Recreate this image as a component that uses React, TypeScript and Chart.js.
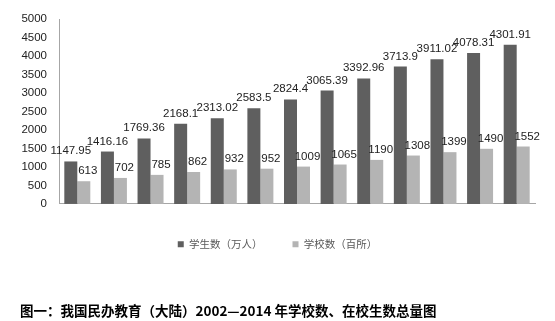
import React, { useEffect, useRef } from "react";
import { Chart, registerables } from "chart.js";

Chart.register(...registerables);

const years = ["2002", "2003", "2004", "2005", "2006", "2007", "2008", "2009", "2010", "2011", "2012", "2013", "2014"];
const students = [1147.95, 1416.16, 1769.36, 2168.1, 2313.02, 2583.5, 2824.4, 3065.39, 3392.96, 3713.9, 3911.02, 4078.31, 4301.91];
const schools = [613, 702, 785, 862, 932, 952, 1009, 1065, 1190, 1308, 1399, 1490, 1552];
const studentLabels = ["1147.95", "1416.16", "1769.36", "2168.1", "2313.02", "2583.5", "2824.4", "3065.39", "3392.96", "3713.9", "3911.02", "4078.31", "4301.91"];
const seriesNames = ["学生数（万人）", "学校数（百所）"];
const caption = "图一：我国民办教育（大陆）2002—2014 年学校数、在校生数总量图";

const NUM_FONT = "'Liberation Sans', Arial, sans-serif";
const CJK_FONT = "'Noto Sans CJK SC', 'Liberation Sans', sans-serif";

const valueLabels = {
  id: "valueLabels",
  afterDatasetsDraw(chart: any) {
    const ctx = chart.ctx;
    ctx.save();
    ctx.font = `11.5px ${NUM_FONT}`;
    ctx.fillStyle = "#222222";
    ctx.textAlign = "center";
    ctx.textBaseline = "alphabetic";
    chart.data.datasets.forEach((ds: any, di: number) => {
      const meta = chart.getDatasetMeta(di);
      meta.data.forEach((bar: any, i: number) => {
        const text = di === 0 ? studentLabels[i] : String(ds.data[i]);
        const dx = di === 0 ? 0 : 4;
        ctx.fillText(text, bar.x + dx, bar.y - 7);
      });
    });
    ctx.restore();
  },
};

export default function App() {
  const ref = useRef<HTMLCanvasElement | null>(null);
  useEffect(() => {
    if (!ref.current) return;
    const chart = new Chart(ref.current, {
      type: "bar",
      data: {
        labels: years,
        datasets: [
          { label: seriesNames[0], data: students, backgroundColor: "#5f5f5f", borderWidth: 0 },
          { label: seriesNames[1], data: schools, backgroundColor: "#b4b4b4", borderWidth: 0 },
        ],
      },
      options: {
        responsive: false,
        animation: false,
        devicePixelRatio: 1,
        layout: { padding: { left: 20, right: 20, top: 19, bottom: 0 } },
        datasets: { bar: { barPercentage: 1, categoryPercentage: 0.71 } },
        scales: {
          x: {
            grid: { display: false, drawTicks: false },
            border: { display: true, color: "#a6a6a6", width: 1 },
            ticks: { color: "#222222", font: { family: NUM_FONT, size: 11.5 }, padding: 10, maxRotation: 0 },
            afterFit(scale: any) { scale.height = 5; },
          },
          y: {
            min: 0,
            max: 5000,
            grid: { display: false, drawTicks: false },
            border: { display: true, color: "#a6a6a6", width: 1 },
            ticks: {
              stepSize: 500,
              color: "#222222",
              font: { family: NUM_FONT, size: 11.5 },
              padding: 12,
              callback: (v: any) => String(v),
            },
            afterFit(scale: any) { scale.width = 39; },
          },
        },
        plugins: {
          legend: {
            position: "bottom",
            labels: {
              boxWidth: 6,
              boxHeight: 6,
              padding: 30,
              color: "#595959",
              font: { family: CJK_FONT, size: 10.5 },
            },
          },
          title: {
            display: true,
            position: "bottom",
            align: "start",
            text: caption,
            color: "#000000",
            font: { family: CJK_FONT, size: 13.5, weight: "bold" },
            padding: { top: 43.4, bottom: 2 },
          },
          tooltip: { enabled: false },
        },
      },
      plugins: [valueLabels],
    });
    return () => chart.destroy();
  }, []);
  return (
    <div style={{ position: "fixed", left: 0, top: 0, width: 555, height: 321, background: "#ffffff" }}>
      <canvas ref={ref} width={555} height={321} style={{ display: "block", width: 555, height: 321 }} />
    </div>
  );
}
